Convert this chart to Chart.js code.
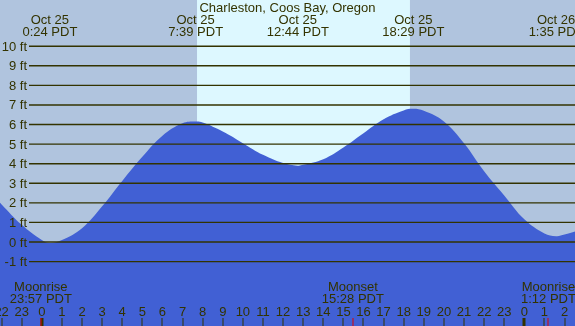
<!DOCTYPE html>
<html>
<head>
<meta charset="utf-8">
<script src="https://cdn.jsdelivr.net/npm/chart.js@4"></script>
<style>
  html, body { margin: 0; padding: 0; background: #b0c4de; }
  canvas { display: block; }
</style>
</head>
<body>
<canvas id="tideChart" width="575" height="326"></canvas>
<script>
const title = "Charleston, Coos Bay, Oregon";

// tide heights (ft), hours from midnight Oct 25
const tideHours = [-3, -2, -1, 0, 0.4, 1, 2, 3, 4, 5, 6, 7, 7.65, 8, 9, 10, 11, 12, 12.73, 13, 14, 15, 16, 17, 18, 18.48, 19, 20, 21, 22, 23, 24, 25, 25.58, 26, 27];
const tideFeet = [3.0, 1.92, 0.88, 0.1, -0.05, 0.1, 0.7, 1.82, 3.12, 4.35, 5.43, 6.06, 6.15, 6.1, 5.64, 5.05, 4.45, 4.03, 3.9, 3.94, 4.23, 4.83, 5.56, 6.27, 6.72, 6.8, 6.7, 6.16, 5.05, 3.62, 2.38, 1.16, 0.44, 0.3, 0.38, 0.7];

// high / low tide labels on top
const extremeHours = [0.4, 7.65, 12.73, 18.48, 25.58];
const extremeDates = ["Oct 25", "Oct 25", "Oct 25", "Oct 25", "Oct 26"];
const extremeTimes = ["0:24 PDT", "7:39 PDT", "12:44 PDT", "18:29 PDT", "1:35 PDT"];

// moon events on the bottom
const moonHours = [-0.05, 15.47, 25.2];
const moonNames = ["Moonrise", "Moonset", "Moonrise"];
const moonTimes = ["23:57 PDT", "15:28 PDT", "1:12 PDT"];

// daylight band
const sunrise = 7.72;
const sunset = 18.31;

const feetLines = [-1, 0, 1, 2, 3, 4, 5, 6, 7, 8, 9, 10];
const hourTicks = [-2, -1, 0, 1, 2, 3, 4, 5, 6, 7, 8, 9, 10, 11, 12, 13, 14, 15, 16, 17, 18, 19, 20, 21, 22, 23, 24, 25, 26];

const ink = "#333300";
const font = "13px 'Liberation Sans', Arial, sans-serif";

const backdrop = {
  id: "backdrop",
  beforeDraw(chart) {
    const { ctx, chartArea, scales } = chart;
    ctx.save();
    ctx.fillStyle = "#b0c4de";
    ctx.fillRect(0, 0, chart.width, chart.height);
    const x1 = scales.x.getPixelForValue(sunrise);
    const x2 = scales.x.getPixelForValue(sunset);
    ctx.fillStyle = "#ddf8ff";
    ctx.fillRect(x1, chartArea.top, x2 - x1, chartArea.bottom - chartArea.top);
    ctx.restore();
  }
};

const overlay = {
  id: "overlay",
  afterDatasetsDraw(chart) {
    const { ctx, scales } = chart;
    const xs = scales.x, ys = scales.y;
    ctx.save();
    ctx.font = font;
    ctx.fillStyle = ink;
    ctx.strokeStyle = ink;

    // feet lines and labels
    ctx.lineWidth = 1.4;
    ctx.textAlign = "right";
    ctx.textBaseline = "alphabetic";
    feetLines.forEach(f => {
      const y = ys.getPixelForValue(f);
      ctx.beginPath();
      ctx.moveTo(29, y);
      ctx.lineTo(chart.width, y);
      ctx.stroke();
      ctx.fillText(f + " ft", 27, y + 4.5);
    });

    // title and tide times
    ctx.textAlign = "center";
    ctx.fillText(title, chart.width / 2, 11.7);
    extremeHours.forEach((h, i) => {
      const x = xs.getPixelForValue(h);
      ctx.fillText(extremeDates[i], x, 23.5);
      ctx.fillText(extremeTimes[i], x, 35.7);
    });

    // hour ticks
    hourTicks.forEach(h => {
      const x = xs.getPixelForValue(h);
      const lab = ((h % 24) + 24) % 24;
      ctx.fillText(String(lab), x, 316);
      ctx.fillRect(Math.round(x) - (lab === 0 ? 1.5 : 0.5), 318, lab === 0 ? 3 : 1, 8);
    });

    // moon events
    moonHours.forEach((h, i) => {
      const x = xs.getPixelForValue(h);
      ctx.fillStyle = ink;
      ctx.fillText(moonNames[i], x, 291.3);
      ctx.fillText(moonTimes[i], x, 303.3);
      ctx.fillStyle = "#e00000";
      ctx.fillRect(Math.round(x) - 0.5, 318, 1, 8);
    });
    ctx.restore();
  }
};

const data = {
  datasets: [
    {
      label: "Tide",
      data: tideHours.map((h, i) => ({ x: h, y: tideFeet[i] })),
      backgroundColor: "rgb(65, 96, 212)",
      borderColor: "rgb(65, 96, 212)",
      borderWidth: 0,
      pointRadius: 0,
      fill: "start",
      tension: 0.4,
    },
  ],
};

const config = {
  type: "line",
  data: data,
  options: {
    responsive: false,
    animation: false,
    devicePixelRatio: 1,
    layout: { padding: 0 },
    plugins: { legend: { display: false }, tooltip: { enabled: false } },
    scales: {
      x: { type: "linear", min: -2.08, max: 26.52, display: false },
      y: { type: "linear", min: -4.29, max: 12.36, display: false },
    },
  },
  plugins: [backdrop, overlay],
};

const myChart = new Chart(document.getElementById("tideChart"), config);
</script>
</body>
</html>
